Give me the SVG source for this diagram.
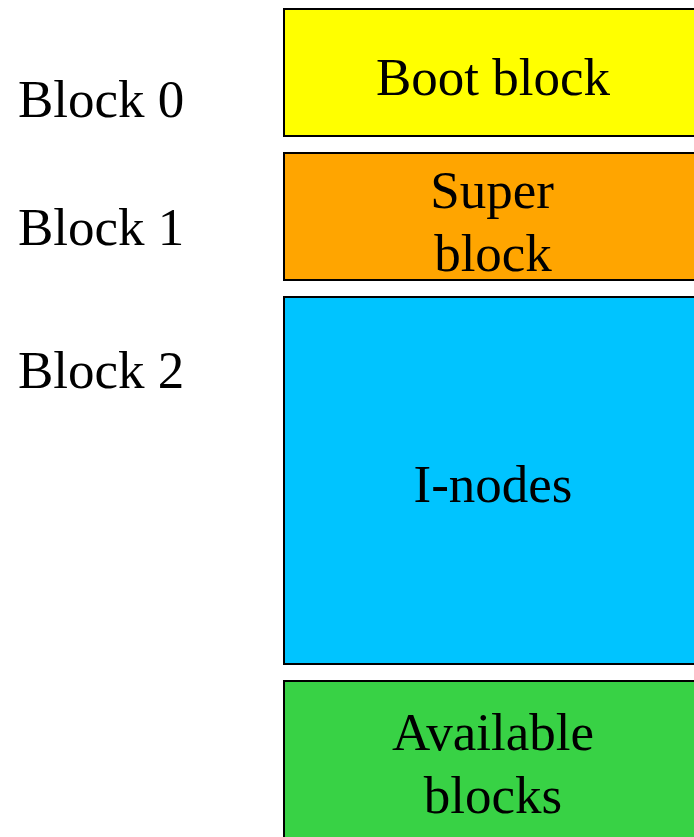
<svg xmlns="http://www.w3.org/2000/svg" width="694" height="837" viewBox="0 0 694 837">
<style>
.box{stroke:#000;stroke-width:2}
text{font-family:"Liberation Serif","Times New Roman",serif;font-size:53px;fill:#000}
.c{text-anchor:middle}
</style>
<rect width="694" height="837" fill="#fff"/>
<g id="label-block0"><text x="18" y="117">Block 0</text></g>
<g id="label-block1"><text x="18" y="245">Block 1</text></g>
<g id="label-block2"><text x="18" y="388">Block 2</text></g>
<g id="boot"><rect class="box" x="284" y="9" width="420" height="127" fill="#ffff00"/><text class="c" x="493" y="95">Boot block</text></g>
<g id="super"><rect class="box" x="284" y="153" width="420" height="127" fill="#ffa500"/><text class="c" x="492" y="208">Super</text><text class="c" x="493" y="271">block</text></g>
<g id="inodes"><rect class="box" x="284" y="297" width="420" height="367" fill="#00c4ff"/><text class="c" x="493" y="502">I-nodes</text></g>
<g id="available"><rect class="box" x="284" y="681" width="420" height="170" fill="#38d245"/><text class="c" x="493" y="750">Available</text><text class="c" x="493" y="813">blocks</text></g>
<g id="connectors"/>
</svg>
